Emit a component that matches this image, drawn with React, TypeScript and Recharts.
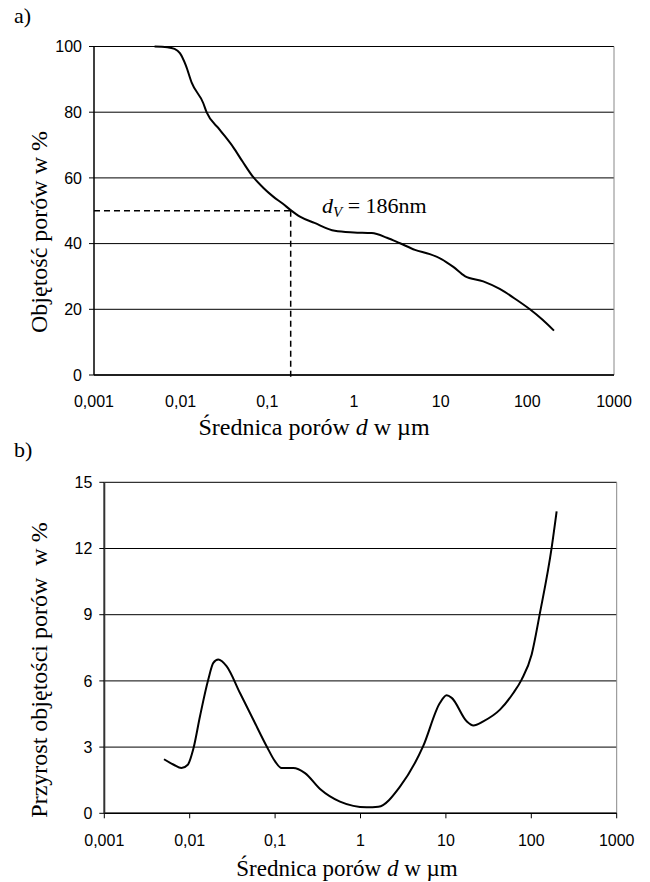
import { LineChart, Line, XAxis, YAxis, CartesianGrid, ReferenceLine } from "recharts";

// pore diameter axis (µm), log scale
const xTicks = [0.001, 0.01, 0.1, 1, 10, 100, 1000];
const volTicks = [0, 20, 40, 60, 80, 100];
const incTicks = [0, 3, 6, 9, 12, 15];

// a) cumulative pore volume
const cumD = [0.005, 0.007, 0.0085, 0.0098, 0.0115, 0.0134, 0.0182, 0.0199, 0.028, 0.0405, 0.052, 0.0689, 0.089, 0.117, 0.15, 0.186, 0.238, 0.35, 0.6, 1.0, 1.6, 2.4, 3.4, 5.05, 7.5, 10.2, 14, 19, 31, 48, 75, 107, 150, 203];
const cumV = [100, 99.8, 99.3, 98, 94.2, 89, 82.8, 80, 74.8, 69.3, 64.9, 60.2, 57.1, 54.3, 52.2, 50.2, 48.2, 46.3, 43.9, 43.4, 43.2, 41.8, 40.1, 38.1, 36.8, 35.3, 32.9, 30.1, 28.5, 26.2, 22.9, 20, 16.8, 13.5];

// b) incremental pore volume
const incD = [0.005, 0.0065, 0.008, 0.0095, 0.011, 0.0132, 0.0165, 0.0189, 0.0216, 0.027, 0.0388, 0.0556, 0.0798, 0.1, 0.119, 0.163, 0.224, 0.336, 0.575, 1.18, 1.62, 2.9, 5.4, 8.5, 10.2, 11.7, 17.5, 21, 27.4, 43, 61.6, 77, 101, 126, 173, 198];
const incV = [2.45, 2.2, 2.05, 2.2, 2.9, 4.4, 6.06, 6.82, 6.97, 6.67, 5.45, 4.24, 3.03, 2.35, 2.05, 2.05, 1.82, 1.1, 0.53, 0.27, 0.3, 1.21, 3.03, 5.0, 5.35, 5.23, 4.17, 3.98, 4.17, 4.7, 5.45, 6.06, 7.2, 9.06, 12.03, 13.68];

const medianD = 0.186;
const medianV = 50;

const cumData = cumD.map((d, i) => ({ d, v: cumV[i] }));
const incData = incD.map((d, i) => ({ d, v: incV[i] }));

const sans = "'Liberation Sans', Arial, sans-serif";
const serif = "'Liberation Serif', 'Times New Roman', serif";
const tick = { fill: "#000", fontSize: 16, fontFamily: sans };

const fmt = (v: number) => String(v).replace(".", ",");

export default function App() {
  return (
    <div style={{ position: "absolute", left: 0, top: 0, width: 650, height: 882, background: "#fff" }}>
      <div style={{ position: "absolute", left: 0, top: 0 }}>
        <LineChart width={650} height={440} data={cumData} margin={{ top: 46.5, right: 36, bottom: 35, left: 34 }}>
          <CartesianGrid vertical={false} stroke="#000" />
          <XAxis
            dataKey="d"
            type="number"
            scale="log"
            domain={[0.001, 1000]}
            ticks={xTicks}
            allowDataOverflow
            tickFormatter={fmt}
            tickLine={false}
            tickSize={5}
            tickMargin={16}
            height={30}
            axisLine={{ stroke: "#000", strokeWidth: 1.5 }}
            tick={tick}
          />
          <YAxis
            type="number"
            domain={[0, 100]}
            ticks={volTicks}
            width={60}
            tickSize={5}
            tickMargin={7}
            axisLine={{ stroke: "#000", strokeWidth: 1.5 }}
            tickLine={{ stroke: "#000" }}
            tick={tick}
          />
          <ReferenceLine x={1000} stroke="#888" />
          <ReferenceLine
            segment={[{ x: 0.001, y: medianV }, { x: medianD, y: medianV }]}
            stroke="#000"
            strokeWidth={1.5}
            strokeDasharray="6 4"
          />
          <ReferenceLine
            segment={[{ x: medianD, y: medianV }, { x: medianD, y: -1.5 }]}
            stroke="#000"
            strokeWidth={1.5}
            strokeDasharray="6 4"
            ifOverflow="visible"
          />
          <Line type="monotone" dataKey="v" stroke="#000" strokeWidth={2} dot={false} isAnimationActive={false} />
        </LineChart>
      </div>
      <div style={{ position: "absolute", left: 0, top: 440 }}>
        <LineChart width={650} height={442} data={incData} margin={{ top: 42.3, right: 33.3, bottom: 38.7, left: 44.3 }}>
          <CartesianGrid vertical={false} stroke="#000" />
          <XAxis
            dataKey="d"
            type="number"
            scale="log"
            domain={[0.001, 1000]}
            ticks={xTicks}
            allowDataOverflow
            tickFormatter={fmt}
            tickSize={5}
            tickMargin={16}
            height={30}
            axisLine={{ stroke: "#000", strokeWidth: 1.5 }}
            tickLine={{ stroke: "#000" }}
            tick={tick}
          />
          <YAxis
            type="number"
            domain={[0, 15]}
            ticks={incTicks}
            width={60}
            tickSize={5}
            tickMargin={7}
            axisLine={{ stroke: "#333", strokeWidth: 2 }}
            tickLine={{ stroke: "#000" }}
            tick={tick}
          />
          <ReferenceLine x={1000} stroke="#888" />
          <Line type="monotone" dataKey="v" stroke="#000" strokeWidth={2} dot={false} isAnimationActive={false} />
        </LineChart>
      </div>
      <svg width={650} height={882} style={{ position: "absolute", left: 0, top: 0, pointerEvents: "none" }}>
        <g fontFamily={serif} fill="#000">
          <text x={14} y={23} fontSize={22}>a)</text>
          <text x={14} y={457} fontSize={22}>b)</text>
          <text x={322} y={213} fontSize={22}>
            <tspan fontStyle="italic">d</tspan>
            <tspan fontStyle="italic" fontSize={15} dy={4}>V</tspan>
            <tspan dy={-4}> = 186nm</tspan>
          </text>
          <text x={314} y={435} fontSize={24} textAnchor="middle">
            Średnica porów <tspan fontStyle="italic">d</tspan> w µm
          </text>
          <text x={347} y={876} fontSize={23} textAnchor="middle">
            Średnica porów <tspan fontStyle="italic">d</tspan> w µm
          </text>
          <text transform="translate(47,232) rotate(-90)" fontSize={24} textAnchor="middle">
            Objętość porów w %
          </text>
          <text transform="translate(47,670) rotate(-90)" fontSize={24} textAnchor="middle" xmlSpace="preserve">
            Przyrost objętości porów  w %
          </text>
        </g>
      </svg>
    </div>
  );
}
